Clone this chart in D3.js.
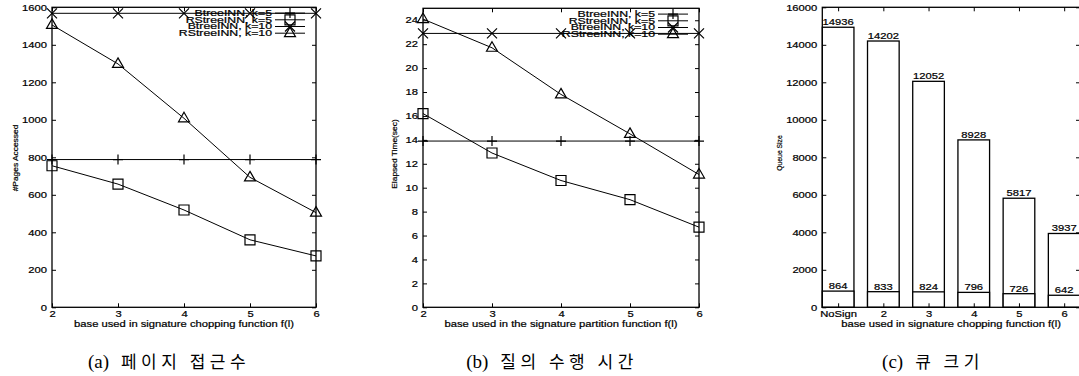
<!DOCTYPE html>
<html>
<head>
<meta charset="utf-8">
<script src="https://cdn.jsdelivr.net/npm/d3@7"></script>
<style>
  body { margin: 0; background: #fff; }
  svg { display: block; }
  text { font-family: "Liberation Sans", Arial, sans-serif; fill: #000; }
  .small { stroke: #000; stroke-width: 0.2px; }
  .caption { font-family: "Liberation Serif", "Noto Sans CJK KR", serif; font-size: 19px; }
  .caption .ko { font-family: "Noto Sans CJK KR", sans-serif; font-size: 17px; letter-spacing: 4.5px; }
</style>
</head>
<body>
<svg id="chart" width="1079" height="376"></svg>
<script>
// (a) pages accessed
const bases = [2, 3, 4, 5, 6];
const pagesBtreeK5 = [788, 788, 788, 788, 788];
const pagesRStreeK5 = [755, 657, 519, 360, 274];
const pagesBtreeK10 = [1568, 1568, 1568, 1568, 1568];
const pagesRStreeK10 = [1506, 1298, 1008, 693, 505];
const pagesTicks = [0, 200, 400, 600, 800, 1000, 1200, 1400, 1600];

// (b) elapsed time
const timeBtreeK5 = [13.9, 13.9, 13.9, 13.9, 13.9];
const timeRStreeK5 = [16.2, 12.9, 10.6, 9.0, 6.7];
const timeBtreeK10 = [22.9, 22.9, 22.9, 22.9, 22.9];
const timeRStreeK10 = [24.1, 21.7, 17.8, 14.5, 11.1];
const timeTicks = [0, 2, 4, 6, 8, 10, 12, 14, 16, 18, 20, 22, 24];

// (c) queue size
const queueCats = ['NoSign', '2', '3', '4', '5', '6'];
const queueLarge = [14936, 14202, 12052, 8928, 5817, 3937];
const queueSmall = [864, 833, 824, 796, 726, 642];
const queueTicks = [0, 2000, 4000, 6000, 8000, 10000, 12000, 14000, 16000];

const legendLabels = ['BtreeINN, k=5', 'RStreeINN, k=5', 'BtreeINN, k=10', 'RStreeINN, k=10'];
const markerKinds = ['plus', 'square', 'cross', 'triangle'];

const svg = d3.select('#chart');
const SX = 1.32;

// gnuplot text looks horizontally stretched
function stretch(sel, sx) {
    sel.each(function () {
        const t = d3.select(this);
        const x = +t.attr('x') || 0;
        const y = +t.attr('y') || 0;
        t.attr('x', 0).attr('y', 0).attr('class', 'small')
            .attr('transform', `translate(${x},${y}) scale(${sx},1)`);
    });
}

function label(x, y, str, opts = {}) {
    const t = svg.append('text')
        .attr('class', 'small')
        .attr('text-anchor', opts.anchor || 'middle')
        .attr('font-size', (opts.size || 8.5) + 'px')
        .attr('dy', '0.35em')
        .text(str);
    const rot = opts.rotate ? ' rotate(-90)' : '';
    t.attr('transform', `translate(${x},${y})${rot} scale(${opts.sx || SX},1)`);
    return t;
}

function markerPath(kind, cx, cy) {
    const s = 5;
    if (kind === 'square') return `M${cx - s},${cy - s}h${2 * s}v${2 * s}h${-2 * s}Z`;
    if (kind === 'triangle') return `M${cx},${cy - 6}L${cx + 5.5},${cy + 3.5}L${cx - 5.5},${cy + 3.5}Z`;
    if (kind === 'cross') return `M${cx - s},${cy - s}L${cx + s},${cy + s}M${cx + s},${cy - s}L${cx - s},${cy + s}`;
    return `M${cx - s},${cy}H${cx + s}M${cx},${cy - s}V${cy + s}`;
}

function axes(box, x, y, xTicks, yTicks, xFormat) {
    const g = svg.append('g');
    const fix = sel => sel.call(s => s.select('.domain').remove())
        .attr('font-size', null).attr('font-family', null)
        .call(s => s.selectAll('line').attr('stroke', '#000').attr('stroke-width', 1));

    const left = g.append('g').attr('transform', `translate(${box.left},0)`)
        .call(d3.axisLeft(y).tickValues(yTicks).tickSize(-4).tickPadding(5).tickFormat(d3.format('d')));
    fix(left);
    left.selectAll('text').attr('font-size', '8.5px').call(stretch, SX);

    fix(g.append('g').attr('transform', `translate(${box.right},0)`)
        .call(d3.axisRight(y).tickValues(yTicks).tickSize(-4).tickFormat('')));

    const bottom = g.append('g').attr('transform', `translate(0,${box.bottom})`)
        .call(d3.axisBottom(x).tickValues(xTicks).tickSize(-4).tickPadding(3.5).tickFormat(xFormat));
    fix(bottom);
    bottom.selectAll('text').attr('font-size', '8.5px').call(stretch, SX);

    fix(g.append('g').attr('transform', `translate(0,${box.top})`)
        .call(d3.axisTop(x).tickValues(xTicks).tickSize(-4).tickFormat('')));

    g.append('rect')
        .attr('x', box.left).attr('y', box.top)
        .attr('width', box.right - box.left).attr('height', box.bottom - box.top)
        .attr('fill', 'none').attr('stroke', '#000').attr('stroke-width', 1.3);
}

function linePanel(box, yMax, yTicks, seriesList, yTitle, xTitle) {
    const x = d3.scaleLinear().domain([2, 6]).range([box.left, box.right]);
    const y = d3.scaleLinear().domain([0, yMax]).range([box.bottom, box.top]);
    axes(box, x, y, bases, yTicks, d3.format('d'));

    const line = d3.line().x((d, i) => x(bases[i])).y(d => y(d));
    const g = svg.append('g').attr('fill', 'none').attr('stroke', '#000');
    seriesList.forEach((vals, k) => {
        g.append('path').attr('d', line(vals)).attr('stroke-width', 1);
        g.selectAll(null).data(vals).join('path')
            .attr('d', (d, i) => markerPath(markerKinds[k], x(bases[i]), y(d)))
            .attr('stroke-width', 1.2);
    });

    // legend
    legendLabels.forEach((name, k) => {
        const ly = box.top + 5.8 + k * 6.7;
        label(box.right - 44, ly, name, { anchor: 'end', size: 8.2, sx: 1.5 });
        g.append('line')
            .attr('x1', box.right - 41).attr('x2', box.right - 11)
            .attr('y1', ly).attr('y2', ly).attr('stroke-width', 1);
        g.append('path').attr('d', markerPath(markerKinds[k], box.right - 26, ly)).attr('stroke-width', 1.2);
    });

    label(box.yTitleX, box.yTitleY, yTitle, { rotate: true, size: 8, sx: 1.05 });
    label((box.left + box.right) / 2, 324, xTitle, { size: 8.5 });
}

// (a)
linePanel({ left: 52, right: 316, top: 7.3, bottom: 307.3, yTitleX: 15, yTitleY: 158 },
    1600, pagesTicks,
    [pagesBtreeK5, pagesRStreeK5, pagesBtreeK10, pagesRStreeK10],
    '#Pages Accessed', 'base used in signature chopping function f(l)');

// (b)
linePanel({ left: 423, right: 699, top: 8.3, bottom: 307.3, yTitleX: 394, yTitleY: 154 },
    25, timeTicks,
    [timeBtreeK5, timeRStreeK5, timeBtreeK10, timeRStreeK10],
    'Elapsed Time(sec)', 'base used in the signature partition function f(l)');

// (c)
{
    const box = { left: 822.3, right: 1080, top: 7.3, bottom: 307.3 };
    const x = d3.scaleLinear().domain([-0.35, 5.35]).range([box.left, box.right]);
    const y = d3.scaleLinear().domain([0, 16000]).range([box.bottom, box.top]);
    const idx = d3.range(queueCats.length);
    const bw = x(0.35) - x(-0.35);

    const g = svg.append('g');
    [queueLarge, queueSmall].forEach(vals => {
        g.selectAll(null).data(vals).join('rect')
            .attr('x', (d, i) => x(i) - bw / 2).attr('y', d => y(d))
            .attr('width', bw).attr('height', d => y(0) - y(d))
            .attr('fill', '#fff').attr('stroke', '#000').attr('stroke-width', 1.3);
        vals.forEach((v, i) => label(x(i), y(v) - 5, String(v), { size: 8.5 }));
    });

    axes(box, x, y, idx, queueTicks, i => queueCats[i]);
    label(779, 153, 'Queue Size', { rotate: true, size: 8, sx: 0.85 });
    label((box.left + box.right) / 2, 324, 'base used in signature chopping function f(l)', { size: 8.5 });
}

// captions
[['(a)', '페이지 접근수', 169], ['(b)', '질의 수행 시간', 552], ['(c)', '큐 크기', 933]].forEach(([tag, str, cx]) => {
    const t = svg.append('text').attr('class', 'caption')
        .attr('x', cx).attr('y', 368).attr('text-anchor', 'middle');
    t.append('tspan').text(tag);
    t.append('tspan').attr('class', 'ko').attr('dx', 12).text(str);
});
</script>
</body>
</html>
